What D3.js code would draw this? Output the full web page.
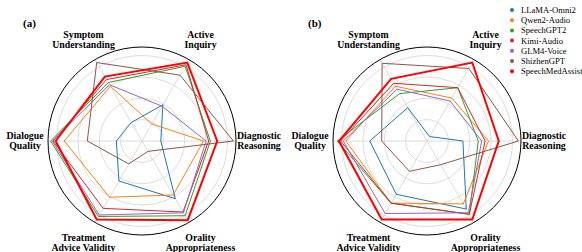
<!DOCTYPE html>
<html>
<head>
<meta charset="utf-8">
<script src="https://cdn.jsdelivr.net/npm/d3@7"></script>
<style>
  body { margin: 0; background: #fff; }
</style>
</head>
<body>
<div id="chart"></div>
<script>
// axis order follows the angle: 0 deg (right), then counter-clockwise
const axisLabels = [
  ["Diagnostic", "Reasoning"],
  ["Active", "Inquiry"],
  ["Symptom", "Understanding"],
  ["Dialogue", "Quality"],
  ["Treatment", "Advice Validity"],
  ["Orality", "Appropriateness"]
];

const models = ["LLaMA-Omni2", "Qwen2-Audio", "SpeechGPT2", "Kimi-Audio", "GLM4-Voice", "ShizhenGPT", "SpeechMedAssist"];
const colors = ["#1f77b4", "#ff7f0e", "#2ca02c", "#d62728", "#9467bd", "#8c564b", "#ff0000"];

// scores per model, order: DR, AI, SU, DQ, TAV, OA
const scoresA = [
  [0.22, 0.49, 0.25, 0.30, 0.54, 0.78],
  [0.72, 0.23, 0.74, 0.91, 0.76, 0.73],
  [0.80, 1.01, 0.79, 1.07, 1.02, 1.01],
  [0.78, 1.03, 0.83, 1.04, 0.91, 0.96],
  [0.75, 0.47, 0.76, 1.05, 1.00, 0.97],
  [1.07, 0.89, 1.06, 0.64, 0.31, 0.14],
  [0.88, 1.06, 0.87, 1.01, 1.06, 1.07]
];
const scoresB = [
  [0.42, 0.06, 0.45, 0.67, 0.72, 0.92],
  [0.72, 0.58, 0.74, 0.95, 0.84, 0.85],
  [0.60, 0.72, 0.64, 1.05, 0.84, 0.99],
  [0.68, 0.72, 0.78, 1.01, 0.84, 0.99],
  [0.64, 0.54, 0.70, 0.98, 0.98, 0.97],
  [1.07, 0.98, 1.05, 0.53, 0.41, 0.32],
  [0.84, 1.06, 0.84, 1.03, 1.06, 1.06]
];
const gridValues = [0.25, 0.5, 0.75, 1.0];
const rMax = 1.1;

const width = 582, height = 252;
const R = 94;
const serif = "'Liberation Serif', 'Times New Roman', 'DejaVu Serif', serif";

const svg = d3.select("#chart").append("svg")
  .attr("width", width)
  .attr("height", height)
  .attr("font-family", serif);

svg.append("rect").attr("width", width).attr("height", height).attr("fill", "#fff");

const r = d3.scaleLinear().domain([0, rMax]).range([0, R]);
// d3 radial angle: 0 at top, clockwise
const angle = i => Math.PI / 2 - i * Math.PI / 3;

function drawRadar(cx, cy, scores, tag) {
  const g = svg.append("g").attr("transform", `translate(${cx},${cy})`);

  g.selectAll("circle.grid")
    .data(gridValues)
    .enter().append("circle")
    .attr("class", "grid")
    .attr("r", d => r(d))
    .attr("fill", "none")
    .attr("stroke", "#d3d3d3")
    .attr("stroke-width", 0.8);

  g.selectAll("line.spoke")
    .data(axisLabels)
    .enter().append("line")
    .attr("class", "spoke")
    .attr("x1", 0).attr("y1", 0)
    .attr("x2", (d, i) => r(rMax) * Math.sin(angle(i)))
    .attr("y2", (d, i) => -r(rMax) * Math.cos(angle(i)))
    .attr("stroke", "#d3d3d3")
    .attr("stroke-width", 0.8);

  const line = d3.lineRadial()
    .angle((d, i) => angle(i))
    .radius(d => r(d))
    .curve(d3.curveLinearClosed);

  g.selectAll("path.series")
    .data(scores)
    .enter().append("path")
    .attr("class", "series")
    .attr("d", line)
    .attr("fill", "none")
    .attr("stroke", (d, i) => colors[i])
    .attr("stroke-width", (d, i) => i === scores.length - 1 ? 2 : 1)
    .attr("stroke-linejoin", "miter");

  g.append("circle")
    .attr("r", r(rMax))
    .attr("fill", "none")
    .attr("stroke", "#000")
    .attr("stroke-width", 1);

  const labelR = 117;
  const labels = g.selectAll("text.axis")
    .data(axisLabels)
    .enter().append("text")
    .attr("class", "axis")
    .attr("text-anchor", "middle")
    .attr("font-family", serif)
    .attr("font-size", 9.8)
    .attr("font-weight", "bold")
    .attr("fill", "#000")
    .attr("transform", (d, i) => `translate(${labelR * Math.sin(angle(i))},${-labelR * Math.cos(angle(i))})`);

  labels.selectAll("tspan")
    .data(d => d)
    .enter().append("tspan")
    .attr("x", 0)
    .attr("y", (d, j) => j * 10 - 1.7)
    .text(d => d);

  svg.append("text")
    .attr("x", cx - 119)
    .attr("y", 27)
    .attr("font-family", serif)
    .attr("font-size", 11)
    .attr("font-weight", "bold")
    .text(tag);
}

drawRadar(142, 141, scoresA, "(a)");
drawRadar(427, 141, scoresB, "(b)");

// legend
const legend = svg.append("g").attr("transform", "translate(512,10)");
const items = legend.selectAll("g")
  .data(models)
  .enter().append("g")
  .attr("transform", (d, i) => `translate(0,${i * 10.2})`);
items.append("circle")
  .attr("r", 2)
  .attr("fill", (d, i) => colors[i]);
items.append("text")
  .attr("x", 9)
  .attr("y", 3)
  .attr("font-family", serif)
  .attr("font-size", 8.6)
  .text(d => d);
</script>
</body>
</html>
